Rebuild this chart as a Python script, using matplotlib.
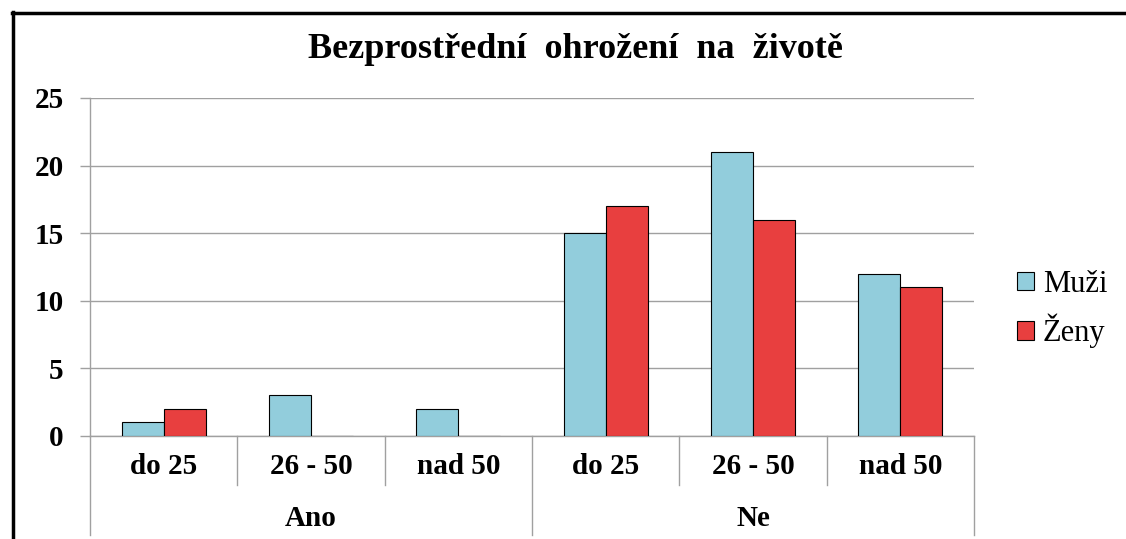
import matplotlib
matplotlib.use('Agg')
import matplotlib.pyplot as plt
from matplotlib.patches import Patch
from matplotlib.lines import Line2D
import numpy as np

# data
groups = ['Ano', 'Ne']
age_labels = ['do 25', '26 - 50', 'nad 50', 'do 25', '26 - 50', 'nad 50']
muzi = [1, 3, 2, 15, 21, 12]
zeny = [2, 0, 0, 17, 16, 11]
series_names = ['Muži', 'Ženy']
y_ticks = [0, 5, 10, 15, 20, 25]

blue = '#92CDDC'
red = '#E83F3F'
grey = '#A0A0A0'
serif = ['Liberation Serif', 'DejaVu Serif']

W, H = 1126, 539
fig = plt.figure(figsize=(W / 100, H / 100), dpi=100)
ax = fig.add_axes([90 / W, (H - 436) / H, (974 - 90) / W, (436 - 98) / H])

x = np.arange(len(age_labels))
bw = 0.285
ax.bar(x - bw / 2, muzi, bw, color=blue, edgecolor='black', linewidth=0.8, zorder=3)
ax.bar(x + bw / 2, zeny, bw, color=red, edgecolor='black', linewidth=0.8, zorder=3)

ax.set_xlim(-0.5, len(age_labels) - 0.5)
ax.set_ylim(0, 25)
ax.set_yticks(y_ticks)
ax.set_yticklabels([str(v) for v in y_ticks], fontfamily=serif,
                   fontsize=21, fontweight='bold')
ax.tick_params(axis='y', length=7, color=grey, width=1, pad=12)
ax.set_xticks([])
ax.grid(axis='y', color=grey, linewidth=1, zorder=0)
for s in ['top', 'right']:
    ax.spines[s].set_visible(False)
for s in ['left', 'bottom']:
    ax.spines[s].set_color(grey)
    ax.spines[s].set_linewidth(1)

# multi-level category axis
tr = ax.get_xaxis_transform()
for i in range(len(age_labels) + 1):
    bottom = -0.293 if i % 3 == 0 else -0.145
    ax.add_line(Line2D([i - 0.5, i - 0.5], [0, bottom], transform=tr,
                       color=grey, linewidth=1, clip_on=False))
for i, lab in enumerate(age_labels):
    ax.text(i, -0.09, lab, transform=tr, ha='center', va='center',
            fontfamily=serif, fontsize=21, fontweight='bold')
for g, name in enumerate(groups):
    ax.text(g * 3 + 1, -0.245, name, transform=tr, ha='center', va='center',
            fontfamily=serif, fontsize=21, fontweight='bold')

# title
fig.text(575 / W, 1 - 50 / H, 'Bezprostřední  ohrožení  na  životě', ha='center',
         va='center', fontfamily=serif, fontsize=26, fontweight='bold')

# legend
handles = [Patch(facecolor=blue, edgecolor='black', linewidth=0.8),
           Patch(facecolor=red, edgecolor='black', linewidth=0.8)]
fig.legend(handles, series_names, loc='center left',
           bbox_to_anchor=(1017 / W, 1 - 309 / H), frameon=False,
           prop={'family': serif, 'size': 22}, handlelength=0.55,
           handleheight=0.55, handletextpad=0.3, labelspacing=0.5,
           borderpad=0, borderaxespad=0)

# outer frame (top and left only)
fig.add_artist(Line2D([12 / W, 1], [1 - 13 / H, 1 - 13 / H], transform=fig.transFigure,
                      color='black', linewidth=2.5))
fig.add_artist(Line2D([13 / W, 13 / W], [0, 1 - 12 / H], transform=fig.transFigure,
                      color='black', linewidth=2.5))

fig.savefig('out.png', dpi=100, facecolor='white')
